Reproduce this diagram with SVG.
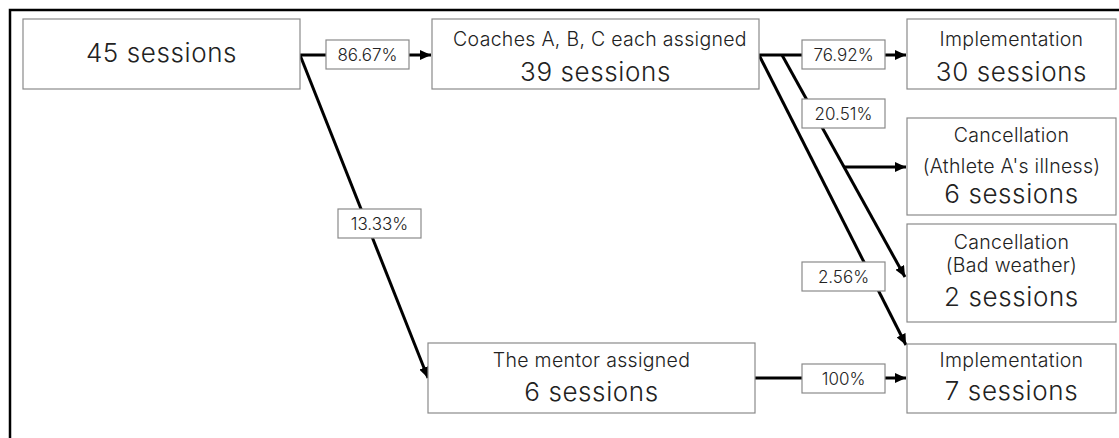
<svg xmlns="http://www.w3.org/2000/svg" width="1119" height="438" viewBox="0 0 1119 438">
<style>
.box{fill:#fff;stroke:#8a8a8a;stroke-width:1.2}
.lbl{fill:#fff;stroke:#8a8a8a;stroke-width:1.2}
.t{font-family:Inter,"Noto Sans CJK JP",sans-serif;fill:#222;text-anchor:middle;font-weight:300}
.big{font-size:26px;letter-spacing:0.6px}
.mid{font-size:19.5px;letter-spacing:0.3px}
.sm{font-size:17px}
.c{stroke:#000;stroke-width:3;fill:none}
</style>
<defs>
<marker id="ah" markerUnits="userSpaceOnUse" markerWidth="12" markerHeight="10" refX="11" refY="5" orient="auto">
<path d="M0,0 L11,5 L0,10 Z" fill="#000"/>
</marker>
</defs>
<rect x="0" y="0" width="1119" height="438" fill="#fff"/>
<rect x="10" y="10" width="1130" height="450" fill="none" stroke="#000" stroke-width="2.5"/>
<g id="connectors">
<line class="c" x1="300" y1="55" x2="431" y2="55" marker-end="url(#ah)"/>
<line class="c" x1="300" y1="55" x2="428" y2="378" marker-end="url(#ah)"/>
<line class="c" x1="759" y1="55" x2="906" y2="55" marker-end="url(#ah)"/>
<line class="c" x1="782" y1="55" x2="905" y2="277" marker-end="url(#ah)"/>
<line class="c" x1="844" y1="167" x2="906" y2="167" marker-end="url(#ah)"/>
<line class="c" x1="759" y1="55" x2="906" y2="345" marker-end="url(#ah)"/>
<line class="c" x1="755" y1="378" x2="906" y2="378" marker-end="url(#ah)"/>
<g id="label-8667"><rect class="lbl" x="326" y="40" width="83" height="29"/><text class="t sm" x="367.5" y="60.5">86.67%</text></g>
<g id="label-1333"><rect class="lbl" x="338" y="209" width="83" height="29"/><text class="t sm" x="379.5" y="229.5">13.33%</text></g>
<g id="label-7692"><rect class="lbl" x="802" y="40" width="83" height="29"/><text class="t sm" x="843.5" y="60.5">76.92%</text></g>
<g id="label-2051"><rect class="lbl" x="802" y="99" width="83" height="29"/><text class="t sm" x="843.5" y="119.5">20.51%</text></g>
<g id="label-256"><rect class="lbl" x="802" y="262" width="83" height="29"/><text class="t sm" x="843.5" y="282.5">2.56%</text></g>
<g id="label-100"><rect class="lbl" x="802" y="364" width="83" height="29"/><text class="t sm" x="843.5" y="384.5">100%</text></g>
</g>
<g id="n-total"><rect class="box" x="23" y="19" width="277" height="70"/><text class="t big" x="161.5" y="62">45 sessions</text></g>
<g id="n-coaches"><rect class="box" x="432" y="19" width="327" height="70"/><text class="t mid" x="600" y="46">Coaches A, B, C each assigned</text><text class="t big" x="595.5" y="81">39 sessions</text></g>
<g id="n-mentor"><rect class="box" x="428" y="343" width="327" height="70"/><text class="t mid" x="591.5" y="367">The mentor assigned</text><text class="t big" x="591.5" y="401">6 sessions</text></g>
<g id="n-impl30"><rect class="box" x="907" y="19" width="209" height="70"/><text class="t mid" x="1011.5" y="46">Implementation</text><text class="t big" x="1011.5" y="81">30 sessions</text></g>
<g id="n-cancel-illness"><rect class="box" x="907" y="118" width="209" height="97"/><text class="t mid" x="1011.5" y="142">Cancellation</text><text class="t mid" x="1011.5" y="173">(Athlete A's illness)</text><text class="t big" x="1011.5" y="203">6 sessions</text></g>
<g id="n-cancel-weather"><rect class="box" x="907" y="224" width="209" height="98"/><text class="t mid" x="1011.5" y="249">Cancellation</text><text class="t mid" x="1011.5" y="272">(Bad weather)</text><text class="t big" x="1011.5" y="306">2 sessions</text></g>
<g id="n-impl7"><rect class="box" x="907" y="344" width="209" height="69"/><text class="t mid" x="1011.5" y="367">Implementation</text><text class="t big" x="1011.5" y="400">7 sessions</text></g>
</svg>
